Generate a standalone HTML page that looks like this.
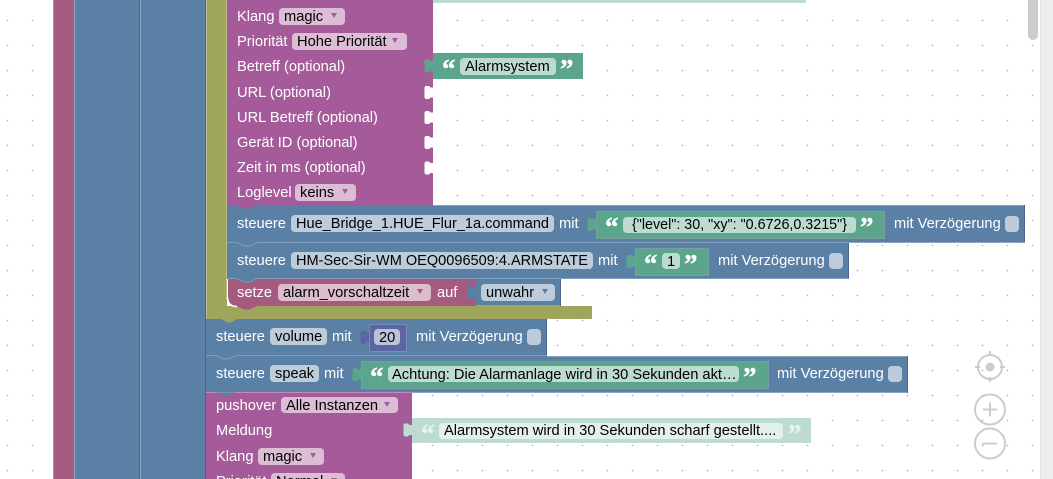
<!DOCTYPE html>
<html><head><meta charset="utf-8"><style>
html,body{margin:0;padding:0;background:#fff;width:1053px;height:479px;overflow:hidden}
svg{display:block}
text{font-family:"Liberation Sans",Arial,sans-serif;font-size:14.67px;fill:#fff}
.d{fill:#000}
.q{font-family:"Liberation Serif",serif;font-size:27px;font-weight:bold;fill:#fff;stroke:#fff;stroke-width:.4}
.pf{fill:#dcbdd6}.bf{fill:#bdccdb}.gf{fill:#bddbd1}.mf{fill:#dbbdcc}.nf{fill:#bdc2db}
</style></head><body>
<svg width="1053" height="479" viewBox="0 0 1053 479" xmlns="http://www.w3.org/2000/svg">
<defs>
<pattern id="g" x="6" y="19" width="25" height="25" patternUnits="userSpaceOnUse">
<rect x="0" y="1" width="3" height="1" fill="#e4e4e4"/>
<rect x="1" y="0" width="1" height="3" fill="#e4e4e4"/>
<rect x="1" y="1" width="1" height="1" fill="#bdbdbd"/>
</pattern>
<path id="t" d="M9.500 -5H6.500L5 -6.500H1.500L.5 -5V5L1.500 6.500H5L6.500 5H9.500Z"/>
</defs>
<rect width="1053" height="479" fill="url(#g)"/>

<!-- vertical columns -->
<rect x="53" y="0" width="21" height="479" fill="#a55b80"/>
<rect x="53" y="0" width="1" height="479" fill="#c08ca6"/>
<rect x="74" y="0" width="66" height="479" fill="#5b80a5"/>
<rect x="73" y="0" width="1" height="479" fill="#84688a"/>
<rect x="74" y="0" width="1" height="479" fill="#8ca6c0"/>
<rect x="139" y="0" width="1" height="479" fill="#48678a"/>
<rect x="140" y="0" width="66" height="479" fill="#5b80a5"/>
<rect x="140" y="0" width="1" height="479" fill="#8ca6c0"/>
<rect x="205" y="0" width="1" height="479" fill="#48678a"/>

<!-- olive C block -->
<path d="M206 0H227V306H592V319H206Z" fill="#9fa55b"/>
<rect x="206" y="0" width="1" height="319" fill="#bcc08c"/>
<rect x="226" y="0" width="1" height="300" fill="#bcc08c"/>

<!-- pale strip at top -->
<rect x="433" y="0" width="373" height="3" fill="#bddbd1"/>

<!-- purple block top -->
<rect x="227" y="0" width="206" height="205" fill="#a55b99"/>
<use href="#t" transform="translate(424,92.500)" fill="#fff"/>
<use href="#t" transform="translate(424,117.500)" fill="#fff"/>
<use href="#t" transform="translate(424,142.500)" fill="#fff"/>
<use href="#t" transform="translate(424,168)" fill="#fff"/>
<text x="237" y="21">Klang</text>
<rect x="279" y="8" width="66" height="17" rx="4" class="pf"/><text x="284" y="21" class="d">magic</text><path d="M331 13h6l-3 5z" fill="#a55b99"/>
<text x="237" y="46">Priorität</text>
<rect x="292" y="33" width="115" height="17" rx="4" class="pf"/><text x="297" y="46" class="d">Hohe Priorität</text><path d="M392 38h6l-3 5z" fill="#a55b99"/>
<text x="237" y="71">Betreff (optional)</text>
<text x="237" y="97">URL (optional)</text>
<text x="237" y="122">URL Betreff (optional)</text>
<text x="237" y="147">Gerät ID (optional)</text>
<text x="237" y="172">Zeit in ms (optional)</text>
<text x="237" y="197">Loglevel</text>
<rect x="295" y="184" width="61" height="17" rx="4" class="pf"/><text x="300" y="197" class="d">keins</text><path d="M342 189h6l-3 5z" fill="#a55b99"/>

<!-- Alarmsystem -->
<rect x="433" y="53" width="150" height="26" fill="#5ba58c"/>
<use href="#t" transform="translate(424,66)" fill="#5ba58c"/>
<rect x="460" y="58" width="96" height="17" rx="4" class="gf"/>
<text x="442" y="78" class="q">“</text><text x="560" y="78" class="q">”</text>
<text x="465" y="71" class="d">Alarmsystem</text>

<!-- steuere 1 -->
<rect x="227" y="205" width="798" height="38" fill="#5b80a5"/>
<rect x="433" y="205" width="592" height="1" fill="#8ca6c0"/>
<rect x="1024" y="205" width="1" height="38" fill="#48678a"/>
<path d="M237 205l7 3.500h6l7 -3.500Z" fill="#a55b99"/>
<text x="237" y="228">steuere</text>
<rect x="291" y="215" width="263" height="17" rx="4" class="bf"/><text x="296" y="228" class="d" textLength="253" lengthAdjust="spacingAndGlyphs">Hue_Bridge_1.HUE_Flur_1a.command</text>
<text x="559" y="228">mit</text>
<use href="#t" transform="translate(587,224.500)" fill="#5ba58c"/>
<rect x="596.500" y="211.500" width="288" height="27" fill="#5ba58c" stroke="#78a0a4" stroke-width="1"/>
<rect x="623" y="217" width="233" height="16" rx="4" class="gf"/>
<text x="605" y="236" class="q">“</text><text x="860" y="236" class="q">”</text>
<text x="632" y="229" class="d" textLength="215" lengthAdjust="spacingAndGlyphs">{"level": 30, "xy": "0.6726,0.3215"}</text>
<text x="894" y="228">mit Verzögerung</text>
<rect x="1005" y="216" width="14" height="16" rx="4" class="bf"/>

<!-- steuere 2 -->
<rect x="227" y="243" width="622" height="36" fill="#5b80a5"/>
<rect x="849" y="242" width="176" height="1" fill="#8ca6c0"/>
<path d="M227 242.500H237l7 3.500h6l7 -3.500H849" fill="#5b80a5" stroke="#7f9cb9" stroke-width="1"/>
<rect x="848" y="243" width="1" height="36" fill="#48678a"/>
<text x="237" y="265">steuere</text>
<rect x="291" y="252" width="302" height="17" rx="4" class="bf"/><text x="296" y="265" class="d" textLength="292" lengthAdjust="spacingAndGlyphs">HM-Sec-Sir-WM OEQ0096509:4.ARMSTATE</text>
<text x="598" y="265">mit</text>
<use href="#t" transform="translate(626,261.500)" fill="#5ba58c"/>
<rect x="635.500" y="248.500" width="73" height="27" fill="#5ba58c" stroke="#78a0a4" stroke-width="1"/>
<rect x="662" y="253" width="18" height="16" rx="4" class="gf"/>
<text x="644" y="273" class="q">“</text><text x="684" y="273" class="q">”</text>
<text x="667" y="266" class="d">1</text>
<text x="718" y="265">mit Verzögerung</text>
<rect x="829" y="253" width="14" height="16" rx="4" class="bf"/>

<!-- setze -->
<path d="M228 279H476V306H236Q228 306 228 298Z" fill="#a55b80"/>
<path d="M227.500 297Q227.500 306.500 237 306.500" fill="none" stroke="#fff" stroke-width="1.500"/>
<rect x="476" y="279" width="85" height="27" fill="#5b80a5"/>
<rect x="476" y="305" width="85" height="1" fill="#8ca6c0"/>
<rect x="560" y="279" width="1" height="27" fill="#48678a"/>
<use href="#t" transform="translate(467,292.500)" fill="#5b80a5"/>
<path d="M228 278.500H237l7 3.500h6l7 -3.500H849" fill="#5b80a5" stroke="#7f9cb9" stroke-width="1"/>
<path d="M237 306l7 3.500h6l7 -3.500Z" fill="#a55b80"/>
<text x="237" y="297">setze</text>
<rect x="278" y="284" width="153" height="17" rx="4" class="mf"/><text x="283" y="297" class="d">alarm_vorschaltzeit</text><path d="M417 289h6l-3 5z" fill="#a55b80"/>
<text x="437" y="297">auf</text>
<rect x="481" y="284" width="74" height="17" rx="4" class="bf"/><text x="486" y="297" class="d">unwahr</text><path d="M542 289h6l-3 5z" fill="#5b80a5"/>

<!-- steuere volume -->
<rect x="206" y="319" width="341" height="37" fill="#5b80a5"/>
<rect x="546" y="319" width="1" height="37" fill="#48678a"/>
<path d="M221 319l7 3.500h3l6 -3.500Z" fill="#9fa55b"/>
<text x="216" y="341">steuere</text>
<rect x="270" y="328" width="57" height="17" rx="4" class="bf"/><text x="275" y="341" class="d">volume</text>
<text x="332" y="341">mit</text>
<use href="#t" transform="translate(360,337.500)" fill="#5b67a5"/>
<rect x="369.500" y="324.500" width="37" height="27" fill="#5b67a5" stroke="#7f8ab8" stroke-width="1"/>
<rect x="374" y="329" width="26" height="16" rx="4" class="nf"/><text x="379" y="342" class="d">20</text>
<text x="416" y="341">mit Verzögerung</text>
<rect x="527" y="329" width="14" height="16" rx="4" class="bf"/>

<!-- steuere speak -->
<rect x="206" y="356" width="702" height="37" fill="#5b80a5"/>
<path d="M206 355.500H216l7 3.500h6l7 -3.500H547" fill="#5b80a5" stroke="#7f9cb9" stroke-width="1"/>
<rect x="547" y="356" width="361" height="1" fill="#8ca6c0"/>
<rect x="412" y="392" width="496" height="1" fill="#8ca6c0"/>
<rect x="907" y="356" width="1" height="37" fill="#48678a"/>
<text x="216" y="378">steuere</text>
<rect x="270" y="365" width="49" height="17" rx="4" class="bf"/><text x="275" y="378" class="d">speak</text>
<text x="324" y="378">mit</text>
<use href="#t" transform="translate(352,374.500)" fill="#5ba58c"/>
<rect x="361.500" y="361.500" width="407" height="27" fill="#5ba58c" stroke="#78a0a4" stroke-width="1"/>
<rect x="388" y="366" width="351" height="16" rx="4" class="gf"/>
<text x="370" y="386" class="q">“</text><text x="743" y="386" class="q">”</text>
<text x="392" y="379" class="d">Achtung: Die Alarmanlage wird in 30 Sekunden akt…</text>
<text x="777" y="378">mit Verzögerung</text>
<rect x="888" y="366" width="14" height="16" rx="4" class="bf"/>

<!-- pushover -->
<rect x="206" y="393" width="206" height="86" fill="#a55b99"/>
<rect x="206" y="392" width="206" height="1" fill="#c08cb8"/>
<path d="M216 392.500l7 3.500h6l7 -3.500Z" fill="#5b80a5"/>
<text x="216" y="410">pushover</text>
<rect x="281" y="397" width="117" height="16" rx="4" class="pf"/><text x="286" y="410" class="d">Alle Instanzen</text><path d="M384 402h6l-3 5z" fill="#a55b99"/>
<text x="216" y="435">Meldung</text>
<text x="216" y="461">Klang</text>
<rect x="258" y="448" width="66" height="17" rx="4" class="pf"/><text x="263" y="461" class="d">magic</text><path d="M310 453h6l-3 5z" fill="#a55b99"/>
<text x="216" y="486">Priorität</text>
<rect x="271" y="473" width="74" height="17" rx="4" class="pf"/><text x="276" y="486" class="d">Normal</text><path d="M331 478h6l-3 5z" fill="#a55b99"/>

<!-- pale green -->
<rect x="412" y="418" width="399" height="25" fill="#bddbd1"/>
<use href="#t" transform="translate(403,430)" fill="#bddbd1"/>
<rect x="439" y="423" width="344" height="16" rx="4" fill="#e4f0ec"/>
<text x="421" y="443" class="q" style="fill:#e8f3ef;stroke:#e8f3ef">“</text><text x="788" y="443" class="q" style="fill:#e8f3ef;stroke:#e8f3ef">”</text>
<text x="444" y="435" class="d">Alarmsystem wird in 30 Sekunden scharf gestellt....</text>

<!-- controls -->
<g fill="none" stroke="#ccc" stroke-width="2">
<circle cx="990" cy="367" r="12"/>
<path d="M990 351v5M990 377v5M975 367h5M1000 367h5"/>
<circle cx="990" cy="409.500" r="15"/>
<path d="M983 409.500h14M990 402.500v14"/>
<circle cx="990" cy="443.500" r="15"/>
<path d="M982 444.500l2 -1h13"/>
</g>
<circle cx="990" cy="367" r="4.500" fill="#ccc"/>

<!-- scrollbar -->
<rect x="1040" y="0" width="13" height="479" fill="#eee"/>
<rect x="1040" y="0" width="1" height="479" fill="#e4e4e4"/>
<path d="M1028 0H1038V35a5 5 0 0 1 -10 0Z" fill="#ccc"/>
</svg>
</body></html>
